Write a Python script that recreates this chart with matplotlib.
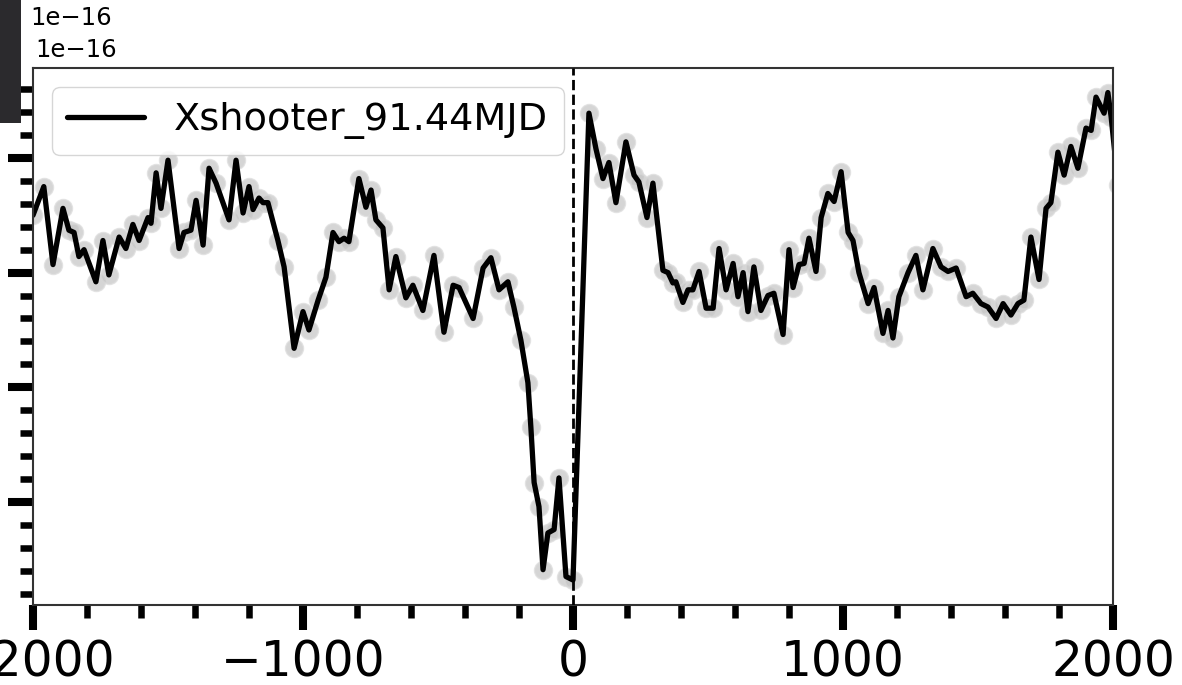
import numpy as np
import matplotlib.pyplot as plt
from matplotlib.patches import Rectangle
from matplotlib.ticker import MultipleLocator

# velocity (km/s) and flux (units of 1e-16)
velocity = [-2000, -1960, -1926, -1889, -1867, -1848, -1830, -1811, -1767, -1741,
            -1719, -1681, -1656, -1630, -1607, -1574, -1563, -1544, -1526, -1500,
            -1459, -1441, -1415, -1396, -1370, -1348, -1322, -1274, -1248, -1222,
            -1200, -1185, -1163, -1148, -1130, -1093, -1070, -1033, -1000, -978,
            -944, -915, -889, -867, -848, -830, -793, -767, -748, -730,
            -704, -681, -656, -619, -593, -556, -515, -478, -444, -422,
            -370, -333, -304, -274, -241, -219, -193, -167, -156, -144,
            -126, -111, -93, -70, -52, -26, 0, 59, 85, 111,
            133, 159, 196, 226, 244, 274, 296, 333, 352, 370,
            381, 407, 426, 444, 467, 493, 519, 541, 567, 593,
            611, 630, 648, 670, 696, 722, 744, 778, 800, 815,
            837, 856, 874, 900, 919, 944, 967, 993, 1019, 1037,
            1059, 1093, 1115, 1148, 1167, 1185, 1207, 1241, 1270, 1296,
            1333, 1363, 1389, 1419, 1456, 1481, 1511, 1537, 1567, 1593,
            1622, 1648, 1670, 1696, 1726, 1752, 1770, 1796, 1819, 1844,
            1870, 1900, 1919, 1937, 1967, 1981, 1993, 2019]
flux = [3.50, 3.75, 3.07, 3.56, 3.37, 3.35, 3.14, 3.20, 2.92, 3.28,
        2.98, 3.31, 3.21, 3.42, 3.28, 3.48, 3.43, 3.87, 3.56, 3.98,
        3.21, 3.35, 3.37, 3.63, 3.24, 3.91, 3.78, 3.46, 3.98, 3.52,
        3.75, 3.55, 3.65, 3.61, 3.61, 3.28, 3.05, 2.34, 2.66, 2.50,
        2.76, 2.96, 3.35, 3.27, 3.30, 3.27, 3.82, 3.57, 3.72, 3.46,
        3.39, 2.85, 3.14, 2.78, 2.89, 2.67, 3.15, 2.48, 2.89, 2.87,
        2.60, 3.04, 3.13, 2.85, 2.92, 2.70, 2.41, 2.04, 1.65, 1.17,
        0.96, 0.41, 0.73, 0.76, 1.21, 0.35, 0.32, 4.39, 4.08, 3.82,
        3.96, 3.61, 4.14, 3.85, 3.79, 3.48, 3.78, 3.02, 3.00, 2.91,
        2.92, 2.74, 2.85, 2.85, 3.01, 2.69, 2.69, 3.21, 2.85, 3.08,
        2.79, 3.00, 2.66, 3.05, 2.67, 2.80, 2.82, 2.46, 3.20, 2.87,
        3.07, 3.08, 3.30, 3.01, 3.48, 3.69, 3.62, 3.88, 3.35, 3.28,
        3.00, 2.73, 2.87, 2.47, 2.67, 2.43, 2.79, 3.00, 3.15, 2.85,
        3.21, 3.05, 3.01, 3.04, 2.79, 2.82, 2.73, 2.70, 2.60, 2.73,
        2.63, 2.73, 2.76, 3.31, 2.94, 3.56, 3.61, 4.05, 3.85, 4.10,
        3.91, 4.26, 4.24, 4.53, 4.39, 4.57, 4.36, 3.76]
label = 'Xshooter_91.44MJD'
xticks = [-2000, -1000, 0, 1000, 2000]

fig = plt.figure(figsize=(11.82, 6.85), dpi=100)
ax = fig.add_axes([33/1182, 80/685, 1080/1182, 537/685])

ax.plot(velocity, flux, 'o', color='#c4c4c4', ms=12.5, mec='#d8d8d8', mew=1.5,
        alpha=0.7, zorder=1)
ax.plot(velocity, flux, color='black', lw=3.8, label=label, zorder=2,
        solid_joinstyle='round', solid_capstyle='round')
ax.axvline(0, color='black', ls='--', lw=2, zorder=3)

ax.set_xlim(-2000, 2000)
ax.set_ylim(0.102, 4.784)
ax.set_xticks(xticks)
ax.xaxis.set_minor_locator(MultipleLocator(200))
ax.yaxis.set_major_locator(MultipleLocator(1.0))
ax.yaxis.set_minor_locator(MultipleLocator(0.2))
ax.tick_params(which='major', length=18, width=5.8, labelsize=35, pad=6)
ax.tick_params(which='minor', length=9.5, width=4.7)
ax.tick_params(axis='y', which='both', labelleft=False)
for s in ax.spines.values():
    s.set_linewidth(1.5)
    s.set_color('#333333')

ax.legend(loc='upper left', fontsize=27.5, frameon=True)

fig.text(30/1182, 1 - 18/685, '1e\u221216', fontsize=17.5, va='center', ha='left')
fig.text(35/1182, 1 - 50/685, '1e\u221216', fontsize=17.5, va='center', ha='left')
fig.patches.append(Rectangle((0, 1 - 123/685), 21/1182, 123/685, transform=fig.transFigure,
                             facecolor='#2b2a2d', edgecolor='none', zorder=10))

plt.savefig('out.png', dpi=100)
